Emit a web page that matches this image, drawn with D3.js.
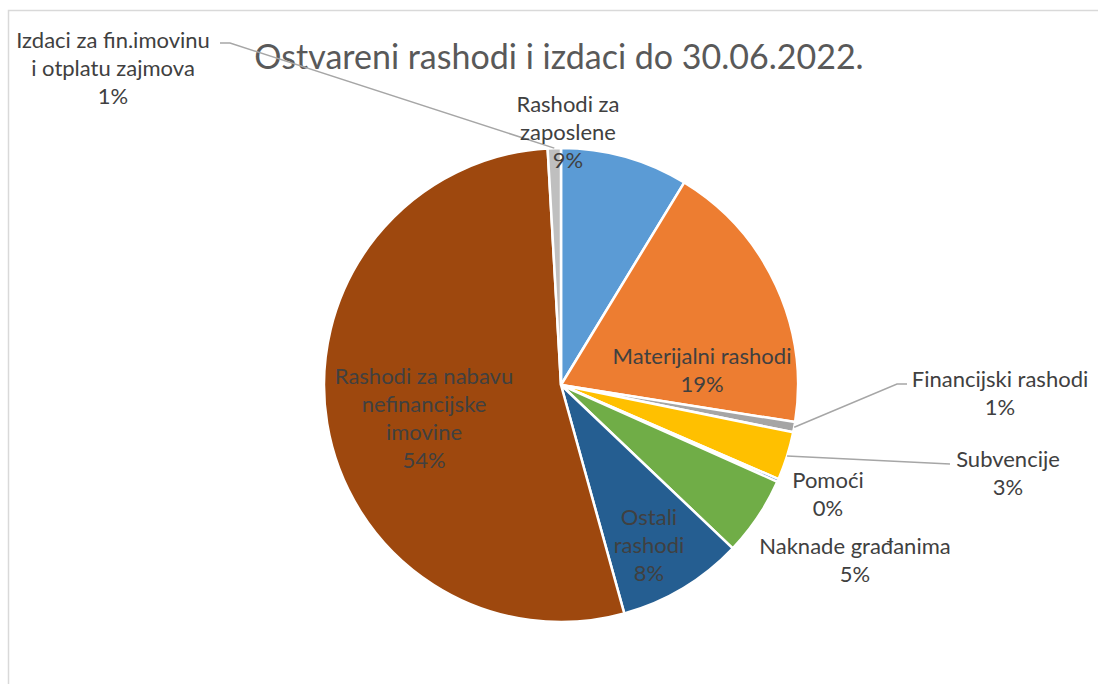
<!DOCTYPE html>
<html>
<head>
<meta charset="utf-8">
<script src="https://cdn.jsdelivr.net/npm/d3@7"></script>
<style>
  body { margin: 0; background: #fff; }
  svg { display: block; font-family: Lato, "Open Sans", sans-serif; }
</style>
</head>
<body>
<div id="chart"></div>
<script>
// data (share of total)
var categories = [
  "Rashodi za zaposlene",
  "Materijalni rashodi",
  "Financijski rashodi",
  "Subvencije",
  "Pomoći",
  "Naknade građanima",
  "Ostali rashodi",
  "Rashodi za nabavu nefinancijske imovine",
  "Izdaci za fin.imovinu i otplatu zajmova"
];
var values = [8.7, 18.8, 0.7, 3.3, 0.2, 5.4, 8.6, 53.4, 0.9];
var percentLabels = ["9%", "19%", "1%", "3%", "0%", "5%", "8%", "54%", "1%"];
// how each label is broken into lines
var labelLines = [
  ["Rashodi za", "zaposlene"],
  ["Materijalni rashodi"],
  ["Financijski rashodi"],
  ["Subvencije"],
  ["Pomoći"],
  ["Naknade građanima"],
  ["Ostali", "rashodi"],
  ["Rashodi za nabavu", "nefinancijske", "imovine"],
  ["Izdaci za fin.imovinu", "i otplatu zajmova"]
];
var colors = ["#5B9BD5", "#ED7D31", "#A5A5A5", "#FFC000", "#4472C4",
              "#70AD47", "#255E91", "#9E480E", "#BFBFBF"];

var width = 1098, height = 684,
    cx = 561, cy = 385, radius = 237,
    lineH = 28;

// label centres relative to the pie centre (first line); leader = x offset where the leader meets the label
var labelPos = [
  {dx: 7,    dy: -281},
  {dx: 141,  dy: -29},
  {dx: 439,  dy: -6,   leader: -93, elbow: -10},
  {dx: 447,  dy: 74,   leader: -58, elbow: 0},
  {dx: 267,  dy: 95},
  {dx: 294,  dy: 161},
  {dx: 88,   dy: 132},
  {dx: -137, dy: -9},
  {dx: -448, dy: -345, leader: 107, elbow: 10}
];

var svg = d3.select("#chart").append("svg")
    .attr("width", width)
    .attr("height", height);

svg.append("rect")
    .attr("x", 8.5)
    .attr("y", 10.5)
    .attr("width", width + 20)
    .attr("height", height + 20)
    .attr("fill", "#fff")
    .attr("stroke", "#D9D9D9")
    .attr("stroke-width", 1.5);

svg.append("text")
    .attr("x", 559)
    .attr("y", 69)
    .attr("text-anchor", "middle")
    .attr("fill", "#595959")
    .style("font-size", "34px")
    .text("Ostvareni rashodi i izdaci do 30.06.2022.");

var pie = d3.pie().sort(null).value(d => d);
var arcs = pie(values);

var arc = d3.arc().innerRadius(0).outerRadius(radius);

var g = svg.append("g")
    .attr("transform", "translate(" + cx + "," + cy + ")");

g.selectAll("path.slice")
    .data(arcs)
  .enter().append("path")
    .attr("class", "slice")
    .attr("d", arc)
    .attr("fill", (d, i) => colors[i])
    .attr("stroke", "#fff")
    .attr("stroke-width", 2.5)
    .attr("stroke-linejoin", "round");

// leader lines from slice edge to label
function edgePoint(d) {
  var a = (d.startAngle + d.endAngle) / 2;
  return [Math.sin(a) * radius, -Math.cos(a) * radius];
}

arcs.forEach(function(d, i) {
  var p = labelPos[i];
  if (p.leader === undefined) return;
  var ly = p.dy + (i === 8 ? 3 : 5);
  var tx = p.dx + p.leader;
  var pts = [edgePoint(d), [tx + p.elbow, ly], [tx, ly]];
  g.append("path")
      .attr("d", d3.line()(pts))
      .attr("fill", "none")
      .attr("stroke", "#A6A6A6")
      .attr("stroke-width", 1.5);
});

var labels = g.selectAll("text.lbl")
    .data(arcs)
  .enter().append("text")
    .attr("class", "lbl")
    .attr("text-anchor", "middle")
    .attr("fill", "#404040")
    .style("font-size", "22px");

labels.each(function(d, i) {
  var t = d3.select(this);
  var p = labelPos[i];
  var lines = labelLines[i].concat([percentLabels[i]]);
  lines.forEach(function(s, k) {
    t.append("tspan")
        .attr("x", p.dx)
        .attr("y", p.dy + k * lineH)
        .attr("dy", "0.35em")
        .text(s);
  });
});
</script>
</body>
</html>
